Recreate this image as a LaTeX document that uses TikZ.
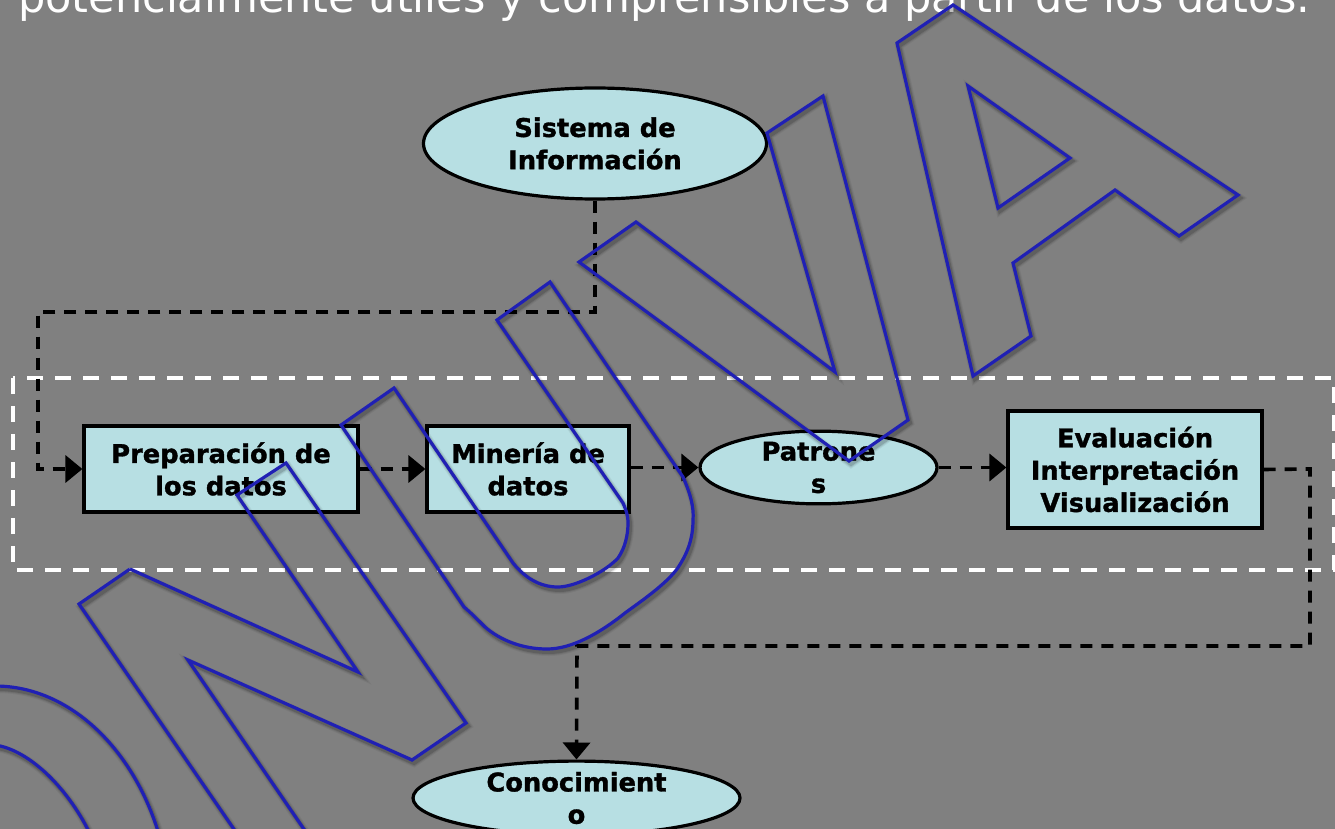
\documentclass[tikz,border=0pt]{standalone}
\usepackage{fontspec}
\setmainfont{DejaVu Sans}
\newfontfamily\heavyf[FakeBold=1.3]{DejaVu Sans Bold}
\usetikzlibrary{shapes.geometric,arrows.meta}
\definecolor{bgc}{HTML}{808080}
\definecolor{boxc}{HTML}{B7DFE3}
\definecolor{wm}{HTML}{2020B4}
\newcommand{\wmpaths}{
  (897,43) -- (953,5) -- (1238,195) -- (1179,236) -- (1115,190) -- (1013,263) -- (1031,336) -- (973,376) -- cycle
  (968,86) -- (1070,158) -- (998,208) -- cycle
  (767,133) -- (823,96) -- (908,420) -- (849,461) -- (579,262) -- (636,222) -- (835,372) -- cycle
  (341,425) -- (394,388) -- (513,563) .. controls (525,578) and (540,587) .. (558,587) .. controls (575,587) and (605,572) .. (618,558) .. controls (625,548) and (628,535) .. (628,523) .. controls (628,515) and (626,510) .. (623,503) -- (497,320) -- (550,282) -- (683,477) .. controls (691,495) and (694,508) .. (693,520) .. controls (693,538) and (688,553) .. (677,569) .. controls (665,585) and (640,602) .. (625,613) .. controls (600,633) and (572,649) .. (547,649) .. controls (522,649) and (500,640) .. (485,627) .. controls (476,618) and (470,612) .. (464,607) -- cycle
  (130,569) -- (358,672) -- (237,495) -- (286,463) -- (466,723) -- (412,760) -- (188,660) -- (310,838)
  (130,569) -- (79,604) -- (240,838)
  (-5,686) .. controls (70,686) and (135,750) .. (160,838)
  (-5,745) .. controls (30,750) and (70,790) .. (92,838)
}
\tikzset{
  boxnode/.style={draw=black,line width=3.2pt,fill=boxc,inner sep=0pt,align=center,font=\fontsize{25.7}{32.3}\selectfont\heavyf},
  ellnode/.style={boxnode,ellipse},
  conn/.style={draw=black,line width=3.6pt,dash pattern=on 12pt off 9pt},
  tip/.style={-{Triangle[width=27pt,length=17pt]}},
  frame/.style={draw=white,line width=4.4pt,dash pattern=on 16pt off 12pt}
}
\begin{document}
\begin{tikzpicture}[x=1pt,y=-1pt]
\useasboundingbox (0,0) rectangle (1335,829);
\clip (0,0) rectangle (1335,829);
\fill[bgc] (0,0) rectangle (1335,829);
\node[anchor=base west,inner sep=0pt,text=white,font=\fontsize{43}{48}\selectfont] (title) at (18,13) {potencialmente útiles y comprensibles a partir de los datos.};
\draw[frame] (13,378) rectangle (1334,570);
\node[ellnode,minimum width=343pt,minimum height=111pt] (si) at (595,143.5) {Sistema de\\Información};
\node[boxnode,minimum width=274pt,minimum height=86pt] (prep) at (221,469) {Preparación de\\los datos};
\node[boxnode,minimum width=202pt,minimum height=86pt] (min) at (528,469) {Minería de\\datos};
\node[ellnode,minimum width=237pt,minimum height=67pt] (pat) at (818.5,467.5) {Patrone\\s};
\node[boxnode,minimum width=254pt,minimum height=117pt] (eva) at (1135,469.5) {Evaluación\\Interpretación\\Visualización};
\node[ellnode,minimum width=327pt,minimum height=70pt] (con) at (576.5,798) {Conocimient\\o};
\coordinate (a1) at (595,312);
\coordinate (a2) at (38,312);
\coordinate (a3) at (38,469);
\coordinate (b1) at (1310,469);
\coordinate (b2) at (1310,646);
\coordinate (b3) at (577,646);
\draw[conn,tip] (si.south) -- (a1) -- (a2) -- (a3) -- (prep.west);
\draw[conn,tip] (prep.east) -- (min.west);
\draw[conn,tip] (min.east |- pat.west) -- (pat.west);
\draw[conn,tip] (pat.east) -- (pat.east -| eva.west);
\draw[conn,tip] (eva.east) -- (b1) -- (b2) -- (b3) -- (con.north);
\begin{scope}[shift={(2pt,-3pt)}]
\draw[black,opacity=.05,line width=8pt] \wmpaths;
\draw[black,opacity=.08,line width=6pt] \wmpaths;
\draw[black,opacity=.14,line width=4pt] \wmpaths;
\end{scope}
\draw[wm,line width=3.2pt,line join=miter] \wmpaths;
\end{tikzpicture}
\end{document}
